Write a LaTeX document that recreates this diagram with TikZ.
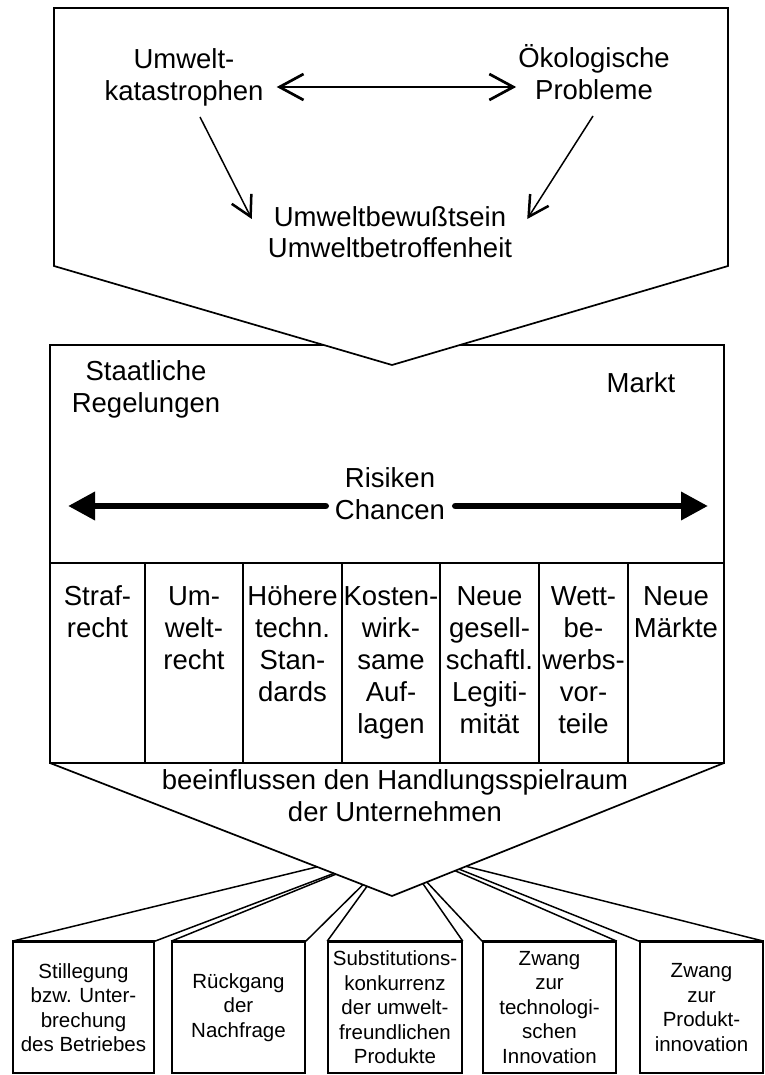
\documentclass[tikz,border=0pt]{standalone}
\usepackage{fontspec}
\setmainfont{Liberation Sans}
\usetikzlibrary{arrows.meta,calc}

\begin{document}
\begin{tikzpicture}[x=1pt,y=-1pt,
  frame/.style={line width=1.7pt, line join=miter},
  big/.style={font=\fontsize{27.5}{32}\selectfont, align=center, inner sep=0pt},
  small/.style={font=\fontsize{20.5}{24.5}\selectfont, align=center, inner sep=0pt},
  barb/.tip={Straight Barb[length=24pt,width=26pt,line width=2.7pt]},
  smallbarb/.tip={Straight Barb[length=20pt,width=22pt,line width=2.5pt]},
  dblarrow/.style={line width=1.5pt, barb-barb},
  diagarrow/.style={line width=1.5pt, -smallbarb},
  boldarrow/.style={line width=6.5pt, line cap=round, -{Triangle[length=27pt,width=27pt]}},
  outbox/.style={small, draw, line width=1.6pt, minimum height=131pt},
  persp/.style={line width=1.5pt},
  colline/.style={line width=1.5pt}]

\useasboundingbox (0,0) rectangle (764,1075);
\fill[white] (0,0) rectangle (764,1075);

% ---- middle frame with the row of columns
\draw[frame] (50,345) rectangle (724,763);
\draw[frame] (50,563) -- (724,563);
\foreach \cx in {145,243,342,440,539,628}
  \draw[colline] (\cx,563) -- (\cx,763);

% ---- upper pentagon pointing down into the middle frame
\draw[frame, fill=white] (54,8) -- (728,8) -- (728,266) -- (392,365) -- (54,266) -- cycle;

% ---- texts of the upper part (base = baseline of the last line)
\node[big, anchor=base] (ka) at (184,101) {Umwelt-\\katastrophen};
\node[big, anchor=base] (ok) at (594,100) {Ökologische\\Probleme};
\node[big, anchor=base] (ub) at (390,258) {Umweltbewußtsein\\Umweltbetroffenheit};

\draw[dblarrow] ([shift={(13,-14)}]ka.base east) -- ([shift={(-2,-13)}]ok.base west);
\draw[diagarrow] ([shift={(16,16)}]ka.base) -- ([shift={(-16,-39)}]ub.base west);
\draw[diagarrow] ([shift={(-1,16)}]ok.base) -- ([shift={(15,-39)}]ub.base east);

% ---- middle part
\node[big, anchor=base] (st) at (146,412) {Staatliche\\Regelungen};
\node[big, anchor=base] (mk) at (641,392) {Markt};
\node[big, anchor=base] (rc) at (390,519) {Risiken\\Chancen};

\coordinate (lt) at (68,506);
\coordinate (rt) at (708,506);
\draw[boldarrow] ([shift={(-9,-13)}]rc.base west) -- (lt);
\draw[boldarrow] ([shift={(10,-13)}]rc.base east) -- (rt);

% ---- columns
\node[big, anchor=base] (c1) at (97.5,637) {Straf-\\recht};
\node[big, anchor=base] (c2) at (194,669) {Um-\\welt-\\recht};
\node[big, anchor=base] (c3) at (292.5,701) {Höhere\\techn.\\Stan-\\dards};
\node[big, anchor=base] (c4) at (391,733) {Kosten-\\wirk-\\same\\Auf-\\lagen};
\node[big, anchor=base] (c5) at (489.5,733) {Neue\\gesell-\\schaftl.\\Legiti-\\mität};
\node[big, anchor=base] (c6) at (583.5,733) {Wett-\\be-\\werbs-\\vor-\\teile};
\node[big, anchor=base] (c7) at (676,637) {Neue\\Märkte};

% ---- lower wedge
\coordinate (L) at (50,763);
\coordinate (R) at (724,763);
\coordinate (A) at (392,896);
\draw[frame] (L) -- (A) -- (R);
\node[big, anchor=base] (bh) at (395,821) {beeinflussen den Handlungsspielraum\\der Unternehmen};

% ---- consequences as boxes seen in perspective
\node[outbox, minimum width=141pt] (b1) at (83.5,1007.5) {Stillegung\\bzw. Unter-\\brechung\\des Betriebes};
\node[outbox, minimum width=133pt] (b2) at (238.5,1007.5) {Rückgang\\der\\Nachfrage};
\node[outbox, minimum width=134pt] (b3) at (395,1007.5) {Substitutions-\\konkurrenz\\der umwelt-\\freundlichen\\Produkte};
\node[outbox, minimum width=133pt] (b4) at (549.5,1007.5) {Zwang\\zur\\technologi-\\schen\\Innovation};
\node[outbox, minimum width=123pt] (b5) at (701.5,1007.5) {Zwang\\zur\\Produkt-\\innovation};

\foreach \b in {b1,b2,b3,b4,b5}
  \draw[line width=2.4pt] (\b.north west) -- (\b.north east);

\draw[persp] (b1.north west) -- ($(L)!0.781!(A)$);
\draw[persp] (b1.north east) -- ($(L)!0.830!(A)$);
\draw[persp] (b2.north west) -- ($(L)!0.836!(A)$);
\draw[persp] (b2.north east) -- ($(L)!0.915!(A)$);
\draw[persp] (b3.north west) -- ($(L)!0.927!(A)$);
\draw[persp] (b3.north east) -- ($(R)!0.907!(A)$);
\draw[persp] (b4.north west) -- ($(R)!0.895!(A)$);
\draw[persp] (b4.north east) -- ($(R)!0.810!(A)$);
\draw[persp] (b5.north west) -- ($(R)!0.798!(A)$);
\draw[persp] (b5.north east) -- ($(R)!0.777!(A)$);

\end{tikzpicture}
\end{document}
